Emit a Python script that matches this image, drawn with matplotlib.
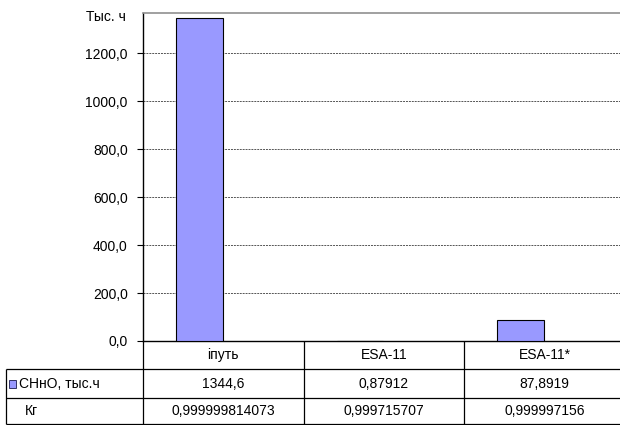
import matplotlib
matplotlib.use("Agg")
import matplotlib.pyplot as plt
import matplotlib.transforms as mtransforms
from matplotlib.patches import Rectangle

plt.rcParams['font.family'] = ['Liberation Sans', 'DejaVu Sans']
plt.rcParams['font.size'] = 10

# данные
categories = ["іпуть", "ESA-11", "ESA-11*"]
cnno = [1344.6, 0.87912, 87.8919]
cnno_text = ["1344,6", "0,87912", "87,8919"]
kg_text = ["0,999999814073", "0,999715707", "0,999997156"]
row_labels = ["СНнО, тыс.ч", "Кг"]
yticks = [0, 200, 400, 600, 800, 1000, 1200]
y_unit = "Тыс. ч"

bar_color = "#9999ff"
W, H = 620, 425

fig = plt.figure(figsize=(W / 100, H / 100), dpi=100)
# область графика (в пикселях): x 143..625, y 13..341
ax = fig.add_axes([143 / W, 1 - 341 / H, 482 / W, 328 / H])

xs = list(range(len(categories)))
ax.bar([x - 0.15 for x in xs], cnno, width=0.29, color=bar_color,
       edgecolor="black", linewidth=0.8, zorder=3)

ax.set_xlim(-0.5, len(categories) - 0.5)
ax.set_ylim(0, 1367)
ax.set_yticks(yticks)
ax.set_yticklabels([f"{v:.1f}".replace(".", ",") for v in yticks])
ax.set_xticks([])
ax.tick_params(axis="y", length=4, width=0.8, pad=7, colors="black")
ax.yaxis.grid(True, linestyle=(0, (2, 1)), color="#555555", linewidth=0.7)
ax.set_axisbelow(True)

for s in ["left", "bottom"]:
    ax.spines[s].set_color("black")
    ax.spines[s].set_linewidth(1.0)
ax.spines["top"].set_color("#909090")
ax.spines["top"].set_linewidth(1.2)
ax.spines["right"].set_visible(False)

fig.text(126 / W, 1 - 17 / H, y_unit, ha="right", va="center")

# таблица под графиком
tr = mtransforms.blended_transform_factory(ax.transData, ax.transAxes)
px = 1 / 328
y0, y1, y2, y3 = 0, -28 * px, -57 * px, -83 * px
left = -0.5 - 137 / 160.67
right = len(categories) - 0.5
lw = 0.9

def line(xv, yv):
    ax.plot(xv, yv, color="black", linewidth=lw, transform=tr, clip_on=False,
            solid_capstyle="butt")

for i in range(len(categories) + 1):
    line([i - 0.5, i - 0.5], [y0, y3])
line([left, left], [y1, y3])
for yy in (y1, y2, y3):
    line([left, right], [yy, yy])

for i, name in enumerate(categories):
    ax.text(i, (y0 + y1) / 2, name, ha="center", va="center", transform=tr)
    ax.text(i, (y1 + y2) / 2, cnno_text[i], ha="center", va="center", transform=tr)
    ax.text(i, (y2 + y3) / 2, kg_text[i], ha="center", va="center", transform=tr)

# подписи строк
fig.patches.append(Rectangle((9 / W, 1 - 388 / H), 7 / W, 8 / H,
                             facecolor=bar_color, edgecolor="#333366",
                             linewidth=0.7, transform=fig.transFigure))
fig.text(19 / W, 1 - 384 / H, row_labels[0], ha="left", va="center")
fig.text(25 / W, 1 - 411 / H, row_labels[1], ha="left", va="center")

fig.savefig("out.png", dpi=100, facecolor="white")
